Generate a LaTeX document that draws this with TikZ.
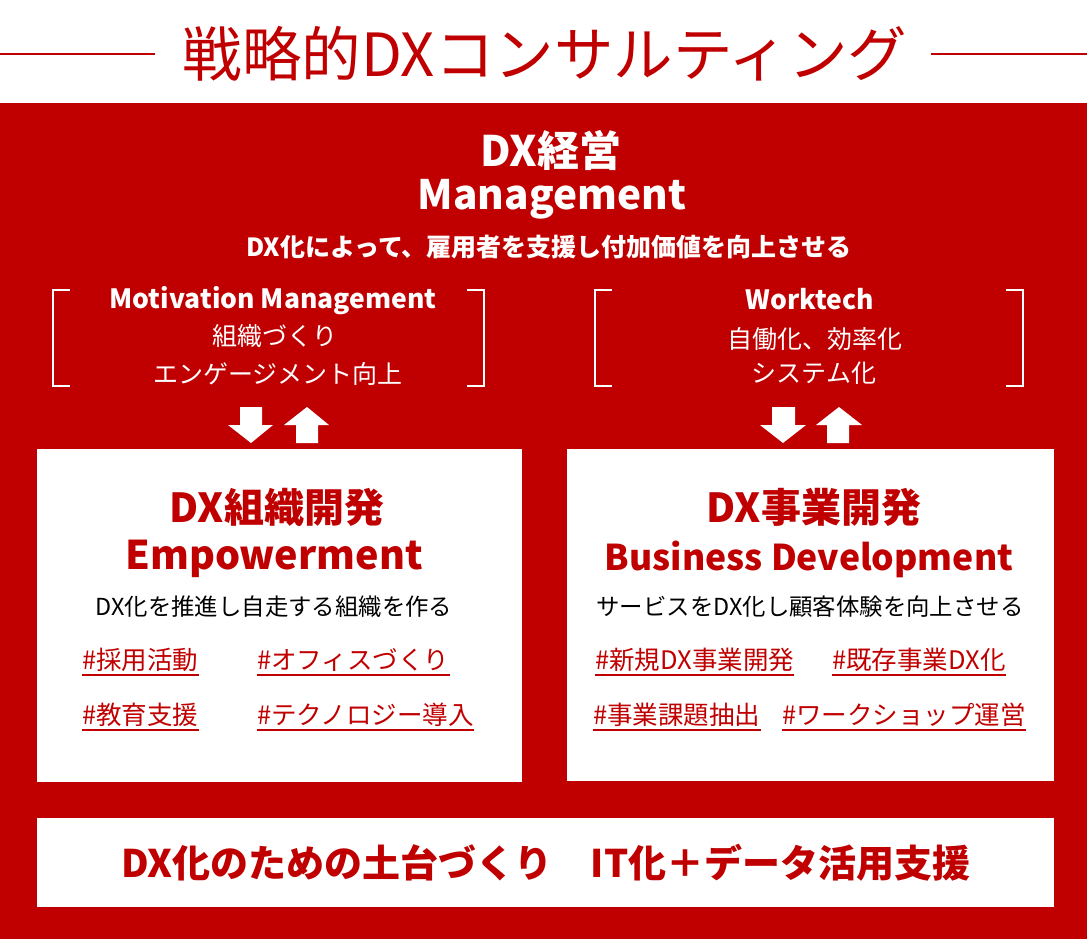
\documentclass[tikz,border=0pt]{standalone}
\usepackage{fontspec}
\setmainfont{Noto Sans CJK JP}
\definecolor{dxred}{RGB}{192,0,0}
\newcommand{\fsz}[1]{\fontsize{#1}{#1}\selectfont}
\tikzset{
  wtext/.style={text=white, inner sep=0pt, align=center},
  rtext/.style={text=dxred, inner sep=0pt, align=center},
  ktext/.style={text=black, inner sep=0pt, align=center},
  tagtext/.style={text=dxred, inner sep=0pt, anchor=base west, font=\fsz{25.5}},
  tagline/.style={draw=dxred, line width=2.4pt},
  bracket/.style={draw=white, line width=2.6pt},
  whitebox/.style={fill=white, draw=none},
  blockarrow/.style={fill=white, draw=none},
  titleline/.style={draw=dxred, line width=1.6pt},
}
\begin{document}
\begin{tikzpicture}[x=1pt,y=-1pt]
\useasboundingbox (0,0) rectangle (1087,939);
\fill[white] (0,0) rectangle (1087,939);

% title
\node[rtext, font=\fsz{59.5}] (title) at (545,54) {戦略的DXコンサルティング};
\coordinate (tlA) at (0,54); \coordinate (tlB) at (155,54);
\coordinate (trA) at (931,54); \coordinate (trB) at (1087,54);
\draw[titleline] (tlA) -- (tlB);
\draw[titleline] (trA) -- (trB);

% red panel
\fill[dxred] (0,103) rectangle (1087,939);

% management header
\node[wtext, font=\bfseries\fsz{42}] (mgmtjp) at (551,150) {DX経営};
\node[wtext, font=\bfseries\fsz{40.5}] (mgmten) at (552,199) {Management};
\node[wtext, font=\bfseries\fsz{25}] (mgmtsub) at (549,247) {DX化によって、雇用者を支援し付加価値を向上させる};

% left bracket group
\draw[bracket] (70,290) -- (53,290) -- (53,386) -- (70,386);
\draw[bracket] (467,290) -- (484,290) -- (484,386) -- (467,386);
\node[wtext, font=\bfseries\fsz{26.5}] (motiv) at (273,301) {Motivation Management};
\node[wtext, font=\fsz{25}] (soshiki) at (275,336) {組織づくり};
\node[wtext, font=\fsz{25}] (engage) at (278,374) {エンゲージメント向上};

% right bracket group
\draw[bracket] (612,290) -- (595,290) -- (595,386) -- (612,386);
\draw[bracket] (1006,290) -- (1023,290) -- (1023,386) -- (1006,386);
\node[wtext, font=\bfseries\fsz{26.5}] (worktech) at (810,299) {Worktech};
\node[wtext, font=\fsz{25}] (jidou) at (815,339) {自働化、効率化};
\node[wtext, font=\fsz{25}] (system) at (814,373) {システム化};

% block arrows
\fill[blockarrow] (240,407) -- (262,407) -- (262,425) -- (273,425) -- (251,443) -- (228,425) -- (240,425) -- cycle;
\fill[blockarrow] (296,443) -- (318,443) -- (318,425) -- (329,425) -- (307,407) -- (284,425) -- (296,425) -- cycle;
\fill[blockarrow] (772,407) -- (795,407) -- (795,425) -- (806,425) -- (783,443) -- (760,425) -- (772,425) -- cycle;
\fill[blockarrow] (827,443) -- (849,443) -- (849,425) -- (862,425) -- (839,407) -- (816,425) -- (827,425) -- cycle;

% white boxes
\fill[whitebox] (37,449) rectangle (522,782);
\fill[whitebox] (567,449) rectangle (1054,781);
\fill[whitebox] (37,818) rectangle (1054,907);

% left box
\node[rtext, font=\bfseries\fsz{40}] (orgjp) at (277,507) {DX組織開発};
\node[rtext, font=\bfseries\fsz{39.5}] (orgen) at (274,559) {Empowerment};
\node[ktext, font=\fsz{23.4}] (orgsub) at (274,607) {DX化を推進し自走する組織を作る};
\node[tagtext] (t1) at (82,669) {\#採用活動};
\node[tagtext] (t2) at (257,669) {\#オフィスづくり};
\node[tagtext] (t3) at (82,724) {\#教育支援};
\node[tagtext] (t4) at (257,724) {\#テクノロジー導入};

% right box
\node[rtext, font=\bfseries\fsz{40}] (bizjp) at (814,507) {DX事業開発};
\node[rtext, font=\bfseries\fsz{35.5}] (bizen) at (809,559) {Business Development};
\node[ktext, font=\fsz{23.4}] (bizsub) at (810,607) {サービスをDX化し顧客体験を向上させる};
\node[tagtext] (t5) at (595,669) {\#新規DX事業開発};
\node[tagtext] (t6) at (832,669) {\#既存事業DX化};
\node[tagtext] (t7) at (593,724) {\#事業課題抽出};
\node[tagtext] (t8) at (782,724) {\#ワークショップ運営};

\foreach \t in {t1,t2,t3,t4,t5,t6,t7,t8}{
  \draw[tagline] ([yshift=-6pt]\t.base west) -- ([yshift=-6pt]\t.base east);
}

% bottom box
\node[rtext, font=\bfseries\fsz{38}] (base) at (546,863) {DX化のための土台づくり　IT化＋データ活用支援};
\end{tikzpicture}
\end{document}
